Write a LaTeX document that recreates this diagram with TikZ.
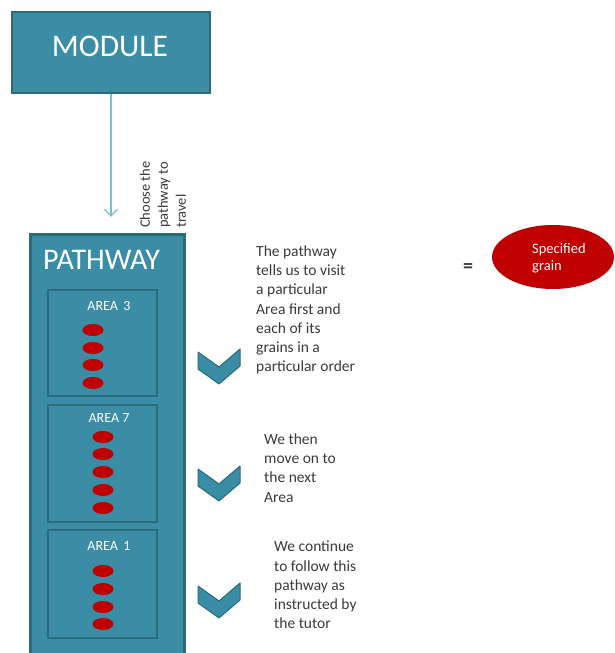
\documentclass[tikz,border=0pt]{standalone}
\usepackage{fontspec}
\setmainfont{Carlito}
\usetikzlibrary{arrows.meta}
\definecolor{teal1}{HTML}{3A8DA4}
\definecolor{tealdark}{HTML}{2B6B7C}
\definecolor{arrowblue}{HTML}{7CBFD0}
\definecolor{grainred}{HTML}{C00000}
\definecolor{txtgray}{HTML}{3A3A3A}
\tikzset{
  boxstyle/.style={fill=teal1, draw=tealdark, line width=2pt},
  areabox/.style={fill=teal1, draw=tealdark, line width=2.5pt},
  grain/.style={fill=grainred},
  chev/.style={fill=teal1, draw=tealdark, line width=1pt, line join=round},
  note/.style={text=txtgray, align=left, inner sep=0pt, anchor=west, font=\fontsize{15.5}{19.2}\selectfont},
  arealabel/.style={text=white, inner sep=0pt, font=\fontsize{14}{16}\selectfont}
}
\begin{document}
\begin{tikzpicture}[x=1pt,y=-1pt]
\useasboundingbox (0,0) rectangle (615,653);
% MODULE
\node[boxstyle, minimum width=198pt, minimum height=81pt, inner sep=0pt] (module) at (111,52.5) {};
\node[text=white, inner sep=0pt, font=\fontsize{31.5}{36}\selectfont] (modtext) at (110,46) {MODULE};
% PATHWAY
\draw[areabox, line width=3pt] (30,234) rectangle (184,670);
\coordinate (pathtop) at (107,234);
\node[text=white, inner sep=0pt, anchor=west, font=\fontsize{30}{34}\selectfont] (pathway) at (43,260) {PATHWAY};
% connector
\draw[arrowblue, line width=1.2pt, -{Straight Barb[length=7pt,width=13pt,line width=1.2pt]}, shorten >=17pt] (module.south) -- (module.south |- pathtop);
\node[rotate=90, anchor=west, align=left, inner sep=0pt, text=txtgray, font=\fontsize{14.5}{18}\selectfont] (choose) at (163,228) {Choose the\\pathway to\\travel};
% areas
\draw[areabox] (48,290) rectangle (157,396);
\node[arealabel] (a3) at (109,306) {AREA\, 3};
\foreach \y in {330,348,365,383} \fill[grain] (93,\y) ellipse (10.5 and 6);
\draw[areabox] (48,405) rectangle (157,522);
\node[arealabel] (a7) at (109,418) {AREA 7};
\foreach \y in {437,454,472,490,508} \fill[grain] (103,\y) ellipse (10.5 and 6);
\draw[areabox] (48,530) rectangle (157,638);
\node[arealabel] (a1) at (109,546) {AREA\, 1};
\foreach \y in {571,589,607,624} \fill[grain] (103,\y) ellipse (10.5 and 6);
% chevrons
\foreach \y in {348,465,582}
  \draw[chev, shift={(219,\y)}] (-21,4) -- (0,19) -- (21,1) -- (21,18) -- (0,36) -- (-21,21) -- cycle;
% notes
\node[note] (n1) at (256,310) {The pathway\\tells us to visit\\a particular\\Area first and\\each of its\\grains in a\\particular order};
\node[note] (n2) at (264,468) {We then\\move on to\\the next\\Area};
\node[note] (n3) at (274,585) {We continue\\to follow this\\pathway as\\instructed by\\the tutor};
% legend
\node[text=txtgray, inner sep=0pt, font=\bfseries\fontsize{20}{22}\selectfont] (eq) at (468,268) {=};
\fill[grainred] (553,257) ellipse (61 and 32);
\node[text=white, align=left, inner sep=0pt, anchor=west, font=\fontsize{14.5}{17}\selectfont] (sg) at (532,258) {Specified\\grain};
\end{tikzpicture}
\end{document}
